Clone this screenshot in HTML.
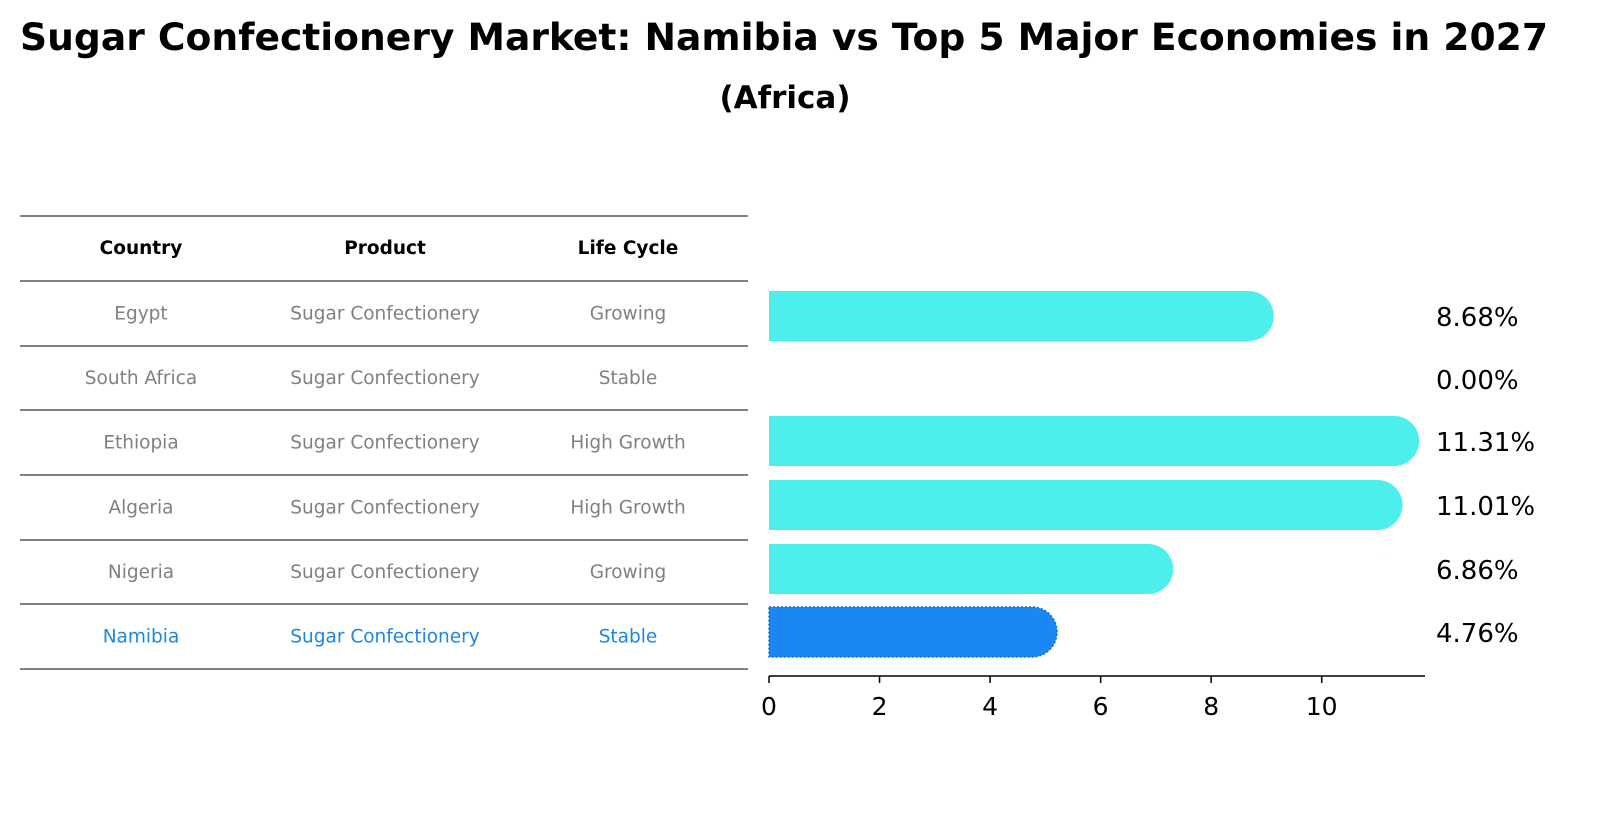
<!DOCTYPE html>
<html><head><meta charset="utf-8">
<style>
body{margin:0;background:#fff;width:1616px;height:823px;overflow:hidden;font-family:"DejaVu Sans","Liberation Sans",sans-serif;}
</style></head>
<body>
<svg id="chart" width="1616" height="823" xmlns="http://www.w3.org/2000/svg" font-family="DejaVu Sans, Liberation Sans, sans-serif">
<text x="784" y="50" text-anchor="middle" font-size="37" font-weight="bold" textLength="1528" lengthAdjust="spacingAndGlyphs">Sugar Confectionery Market: Namibia vs Top 5 Major Economies in 2027</text>
<text x="785" y="108" text-anchor="middle" font-size="31" font-weight="bold">(Africa)</text>
<g id="table"></g>
<g id="bars"></g>
</svg>
<script>
const countries=["Egypt","South Africa","Ethiopia","Algeria","Nigeria","Namibia"];
const products=["Sugar Confectionery","Sugar Confectionery","Sugar Confectionery","Sugar Confectionery","Sugar Confectionery","Sugar Confectionery"];
const lifeCycles=["Growing","Stable","High Growth","High Growth","Growing","Stable"];
const values=[8.68,0.00,11.31,11.01,6.86,4.76];
const ticks=[0,2,4,6,8,10];
const NS="http://www.w3.org/2000/svg";
function mk(tag,attrs,parent){const e=document.createElementNS(NS,tag);for(const k in attrs)e.setAttribute(k,attrs[k]);parent.appendChild(e);return e;}
const tbl=document.getElementById('table');
const lineYs=[216,281,346,410,475,540,604,669];
lineYs.forEach((y,i)=>{const l=mk('line',{x1:20,x2:748,y1:y,y2:y,stroke:'#000','stroke-width':1},tbl);

});
const colX=[141,385,628];
["Country","Product","Life Cycle"].forEach((h,i)=>{const t=mk('text',{x:colX[i],y:254,'text-anchor':'middle','font-size':18.5,'font-weight':'bold'},tbl);t.textContent=h;

});
const rowY=i=>(lineYs[i+1]+lineYs[i+2])/2+6;
countries.forEach((c,i)=>{const col=i===countries.length-1?'#1a87e6':'#808080';
[c,products[i],lifeCycles[i]].forEach((v,j)=>{const t=mk('text',{x:colX[j],y:rowY(i),'text-anchor':'middle','font-size':18.5,fill:col},tbl);t.textContent=v;

});});
const g=document.getElementById('bars');
const x0=769,pxPer=55.27;const xs=v=>x0+v*pxPer;
const centers=[316,379,441,505,569,632];const h=50,r=25;
values.forEach((v,i)=>{const cy=centers[i];
if(v>0){const xe=xs(v);const last=i===values.length-1;
const p=mk('path',{d:`M${x0},${cy-h/2} H${xe} A${r},${r} 0 0 1 ${xe},${cy+h/2} H${x0} Z`,fill:last?'#1a87f5':'#4cefec',stroke:last?'#1570c8':'none','stroke-dasharray':last?'2,2':'none','stroke-width':1.5},g);

}
const t=mk('text',{x:1436,y:cy+10,'font-size':26},g);t.textContent=v.toFixed(2)+'%';

});
const ax=mk('line',{x1:x0,x2:1425,y1:676,y2:676,stroke:'#000','stroke-width':1.5},g);


ticks.forEach(tv=>{const x=xs(tv);const tl=mk('line',{x1:x,x2:x,y1:676,y2:683,stroke:'#000','stroke-width':1.5},g);


const t=mk('text',{x:x,y:715,'text-anchor':'middle','font-size':25},g);t.textContent=tv;

});
</script>
</body></html>
